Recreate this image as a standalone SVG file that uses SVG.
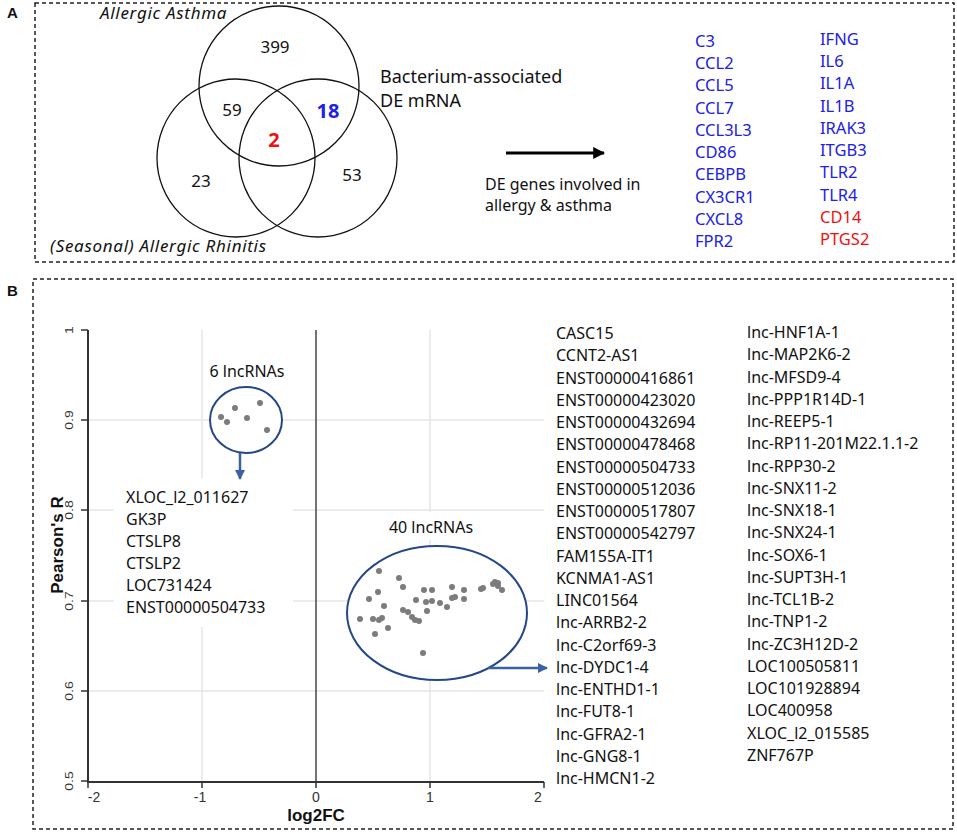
<svg xmlns="http://www.w3.org/2000/svg" width="957" height="833" viewBox="0 0 957 833">
<defs>
<style>
.t{font-family:"Noto Sans","Open Sans",sans-serif;fill:#111}
.v{font-family:"Noto Sans","Open Sans",sans-serif;font-size:17px;fill:#111;text-anchor:middle}
.vb{font-family:"Noto Sans","Open Sans",sans-serif;font-size:20px;font-weight:bold;text-anchor:middle}
.i{font-family:"Noto Sans","Open Sans",sans-serif;font-size:17px;font-style:italic;fill:#111;letter-spacing:0.7px}
.g{font-family:"Noto Sans","Open Sans",sans-serif;font-size:16.5px}
.blue{fill:#2020e6}
.red{fill:#f01010}
.lst{font-family:"Noto Sans","Open Sans",sans-serif;font-size:16px;fill:#111}
.ax{font-family:"Liberation Sans",Arial,sans-serif;font-size:14px;fill:#333;text-anchor:middle}
.axt{font-family:"Liberation Sans",Arial,sans-serif;font-size:17px;font-weight:bold;fill:#111;text-anchor:middle}
.pl{font-family:"Liberation Sans",Arial,sans-serif;font-size:15px;font-weight:bold;fill:#111}
.box{fill:none;stroke:#222;stroke-width:1.5;stroke-dasharray:4 3}
.venn{fill:none;stroke:#111;stroke-width:1.3}
.grid{stroke:#e6e6e6;stroke-width:1.5}
.dot{fill:#7c7c7c}
.clu{fill:#fff;stroke:#24478a;stroke-width:2}
</style>
<marker id="ahk" viewBox="0 0 10 10" refX="9" refY="5" markerWidth="4" markerHeight="4" orient="auto" markerUnits="strokeWidth"><path d="M0,0 L10,5 L0,10 z" fill="#000"/></marker>
<marker id="ahb" viewBox="0 0 10 10" refX="9" refY="5" markerWidth="4" markerHeight="4" orient="auto" markerUnits="strokeWidth"><path d="M0,0 L10,5 L0,10 z" fill="#3a60a6"/></marker>
</defs>
<rect width="957" height="833" fill="#fff"/>

<!-- Panel A -->
<g id="panelA">
<rect class="box" x="35" y="3" width="919" height="259"/>
<text class="pl" x="7" y="18">A</text>
</g>
<g id="venn">
<circle class="venn" cx="279" cy="86" r="80"/>
<circle class="venn" cx="236" cy="158" r="79"/>
<circle class="venn" cx="318" cy="158" r="79"/>
<text class="i" x="100" y="19">Allergic Asthma</text>
<text class="i" x="50" y="252">(Seasonal) Allergic Rhinitis</text>
<text class="t" x="380" y="83" font-size="18">Bacterium-associated</text>
<text class="t" x="380" y="107" font-size="18">DE mRNA</text>
<text class="v" x="275" y="53">399</text>
<text class="v" x="232" y="116">59</text>
<text class="vb blue" x="328" y="118">18</text>
<text class="vb red" x="274" y="147">2</text>
<text class="v" x="201" y="187">23</text>
<text class="v" x="352" y="181">53</text>
</g>
<g id="deLabel">
<text class="t" x="485" y="190" font-size="16">DE genes involved in</text>
<text class="t" x="485" y="211" font-size="16">allergy &amp; asthma</text>
</g>
<g id="geneListA" class="g">
<g class="blue">
<text x="695" y="47">C3</text>
<text x="695" y="69">CCL2</text>
<text x="695" y="91">CCL5</text>
<text x="695" y="114">CCL7</text>
<text x="695" y="136">CCL3L3</text>
<text x="695" y="158">CD86</text>
<text x="695" y="180">CEBPB</text>
<text x="695" y="203">CX3CR1</text>
<text x="695" y="225">CXCL8</text>
<text x="695" y="247">FPR2</text>
<text x="820" y="45">IFNG</text>
<text x="820" y="67">IL6</text>
<text x="820" y="89">IL1A</text>
<text x="820" y="112">IL1B</text>
<text x="820" y="134">IRAK3</text>
<text x="820" y="156">ITGB3</text>
<text x="820" y="178">TLR2</text>
<text x="820" y="201">TLR4</text>
</g>
<g class="red">
<text x="820" y="223">CD14</text>
<text x="820" y="245">PTGS2</text>
</g>
</g>

<!-- Panel B -->
<g id="panelB">
<rect class="box" x="33" y="279" width="920" height="550"/>
<text class="pl" x="7" y="296">B</text>
</g>
<g id="plot">
<line class="grid" x1="88" y1="420" x2="544" y2="420"/>
<line class="grid" x1="88" y1="510" x2="544" y2="510"/>
<line class="grid" x1="88" y1="601" x2="544" y2="601"/>
<line class="grid" x1="88" y1="691" x2="544" y2="691"/>
<line class="grid" x1="202" y1="330" x2="202" y2="782"/>
<line class="grid" x1="430" y1="330" x2="430" y2="782"/>
<rect x="114" y="478" width="179" height="149" fill="#fff"/>
<rect x="382" y="512" width="100" height="28" fill="#fff"/>
<line x1="316" y1="330" x2="316" y2="782" stroke="#444" stroke-width="1.5"/>
<line x1="88" y1="330" x2="88" y2="783" stroke="#333" stroke-width="2"/>
<line x1="87" y1="782" x2="544" y2="782" stroke="#333" stroke-width="2"/>
<g stroke="#333" stroke-width="1.5">
<line x1="81" y1="330" x2="88" y2="330"/>
<line x1="81" y1="420" x2="88" y2="420"/>
<line x1="81" y1="510" x2="88" y2="510"/>
<line x1="81" y1="601" x2="88" y2="601"/>
<line x1="81" y1="691" x2="88" y2="691"/>
<line x1="81" y1="781" x2="88" y2="781"/>
<line x1="88" y1="782" x2="88" y2="788"/>
<line x1="202" y1="782" x2="202" y2="788"/>
<line x1="316" y1="782" x2="316" y2="788"/>
<line x1="430" y1="782" x2="430" y2="788"/>
<line x1="544" y1="782" x2="544" y2="788"/>
</g>
<text class="ax" transform="translate(73 330) rotate(-90) scale(1 0.8)">1</text>
<text class="ax" transform="translate(73 420) rotate(-90) scale(1 0.8)">0.9</text>
<text class="ax" transform="translate(73 510) rotate(-90) scale(1 0.8)">0.8</text>
<text class="ax" transform="translate(73 601) rotate(-90) scale(1 0.8)">0.7</text>
<text class="ax" transform="translate(73 691) rotate(-90) scale(1 0.8)">0.6</text>
<text class="ax" transform="translate(73 781) rotate(-90) scale(1 0.8)">0.5</text>
<text class="ax" x="94" y="802">-2</text>
<text class="ax" x="200" y="802">-1</text>
<text class="ax" x="316" y="802">0</text>
<text class="ax" x="430" y="802">1</text>
<text class="ax" x="538" y="802">2</text>
<text class="axt" x="316" y="821">log2FC</text>
<text class="axt" transform="translate(63 545) rotate(-90)" font-size="16.5">Pearson's R</text>
</g>
<g id="cluster6">
<text class="t" x="247" y="377" font-size="16" text-anchor="middle">6 lncRNAs</text>
<ellipse class="clu" cx="246" cy="420" rx="36" ry="33"/>
<g class="dot">
<circle cx="221" cy="417" r="3"/><circle cx="227" cy="422" r="3"/><circle cx="235" cy="408" r="3"/>
<circle cx="247" cy="418" r="3"/><circle cx="260" cy="403" r="3"/><circle cx="267" cy="430" r="3"/>
</g>
</g>
<g id="list6" class="lst">
<text x="126" y="503">XLOC_l2_011627</text>
<text x="126" y="525">GK3P</text>
<text x="126" y="547">CTSLP8</text>
<text x="126" y="569">CTSLP2</text>
<text x="126" y="591">LOC731424</text>
<text x="126" y="613">ENST00000504733</text>
</g>
<g id="cluster40">
<text class="t" x="431" y="533" font-size="16" text-anchor="middle">40 lncRNAs</text>
<ellipse class="clu" cx="437" cy="613" rx="90" ry="67"/>
<g class="dot">
<circle cx="379" cy="571" r="3"/><circle cx="399" cy="578" r="3"/><circle cx="403" cy="587" r="3"/>
<circle cx="378" cy="592" r="3"/><circle cx="369" cy="599" r="3"/><circle cx="384" cy="606" r="3"/>
<circle cx="360" cy="619" r="3"/><circle cx="373" cy="619" r="3"/><circle cx="379" cy="620" r="3"/>
<circle cx="382" cy="618" r="3"/><circle cx="388" cy="628" r="3"/><circle cx="375" cy="634" r="3"/>
<circle cx="403" cy="610" r="3"/><circle cx="408" cy="612" r="3"/><circle cx="412" cy="617" r="3"/>
<circle cx="415" cy="620" r="3"/><circle cx="419" cy="621" r="3"/><circle cx="416" cy="600" r="3"/>
<circle cx="424" cy="590" r="3"/><circle cx="432" cy="590" r="3"/><circle cx="426" cy="602" r="3"/>
<circle cx="432" cy="601" r="3"/><circle cx="427" cy="611" r="3"/><circle cx="440" cy="603" r="3"/>
<circle cx="447" cy="607" r="3"/><circle cx="452" cy="587" r="3"/><circle cx="452" cy="598" r="3"/>
<circle cx="455" cy="597" r="3"/><circle cx="464" cy="590" r="3"/><circle cx="464" cy="599" r="3"/>
<circle cx="481" cy="589" r="3"/><circle cx="483" cy="588" r="3"/><circle cx="495" cy="582" r="3"/>
<circle cx="498" cy="583" r="3"/><circle cx="498" cy="586" r="3"/><circle cx="502" cy="590" r="3"/>
<circle cx="423" cy="653" r="3"/><circle cx="493" cy="584" r="3"/>
</g>
</g>
<g id="list40" class="lst">
<text x="556" y="339">CASC15</text>
<text x="556" y="361">CCNT2-AS1</text>
<text x="556" y="384">ENST00000416861</text>
<text x="556" y="406">ENST00000423020</text>
<text x="556" y="428">ENST00000432694</text>
<text x="556" y="450">ENST00000478468</text>
<text x="556" y="473">ENST00000504733</text>
<text x="556" y="495">ENST00000512036</text>
<text x="556" y="517">ENST00000517807</text>
<text x="556" y="539">ENST00000542797</text>
<text x="556" y="562">FAM155A-IT1</text>
<text x="556" y="584">KCNMA1-AS1</text>
<text x="556" y="606">LINC01564</text>
<text x="556" y="628">lnc-ARRB2-2</text>
<text x="556" y="651">lnc-C2orf69-3</text>
<text x="556" y="673">lnc-DYDC1-4</text>
<text x="556" y="695">lnc-ENTHD1-1</text>
<text x="556" y="717">lnc-FUT8-1</text>
<text x="556" y="740">lnc-GFRA2-1</text>
<text x="556" y="762">lnc-GNG8-1</text>
<text x="556" y="784">lnc-HMCN1-2</text>
<text x="747" y="338">lnc-HNF1A-1</text>
<text x="747" y="360">lnc-MAP2K6-2</text>
<text x="747" y="383">lnc-MFSD9-4</text>
<text x="747" y="405">lnc-PPP1R14D-1</text>
<text x="747" y="427">lnc-REEP5-1</text>
<text x="747" y="449">lnc-RP11-201M22.1.1-2</text>
<text x="747" y="472">lnc-RPP30-2</text>
<text x="747" y="494">lnc-SNX11-2</text>
<text x="747" y="516">lnc-SNX18-1</text>
<text x="747" y="538">lnc-SNX24-1</text>
<text x="747" y="561">lnc-SOX6-1</text>
<text x="747" y="583">lnc-SUPT3H-1</text>
<text x="747" y="605">lnc-TCL1B-2</text>
<text x="747" y="627">lnc-TNP1-2</text>
<text x="747" y="650">lnc-ZC3H12D-2</text>
<text x="747" y="672">LOC100505811</text>
<text x="747" y="694">LOC101928894</text>
<text x="747" y="716">LOC400958</text>
<text x="747" y="739">XLOC_l2_015585</text>
<text x="747" y="761">ZNF767P</text>
</g>

<g id="connectors">
<line x1="506" y1="153" x2="604" y2="153" stroke="#000" stroke-width="3" marker-end="url(#ahk)"/>
<line x1="240" y1="453" x2="240" y2="479" stroke="#3a60a6" stroke-width="2.5" marker-end="url(#ahb)"/>
<line x1="488" y1="668" x2="547" y2="668" stroke="#3a60a6" stroke-width="2.5" marker-end="url(#ahb)"/>
</g>
</svg>
